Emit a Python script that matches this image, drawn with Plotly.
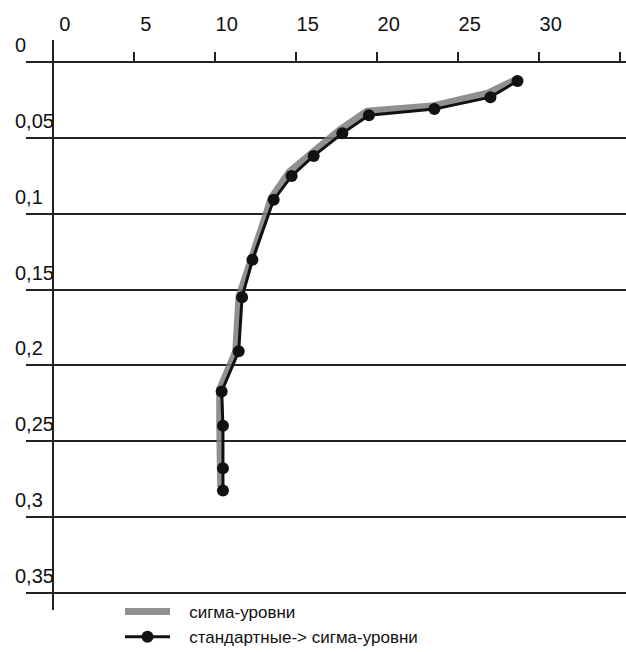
import plotly.graph_objects as go

# Data
sigma_x = [28.52, 26.85, 23.40, 19.40, 17.70, 16.00, 14.60, 13.50, 12.18, 11.50, 11.30, 10.31, 10.31, 10.31, 10.37]
sigma_y = [0.0118, 0.0204, 0.0289, 0.0322, 0.0447, 0.0599, 0.0724, 0.0895, 0.1303, 0.1546, 0.1908, 0.2158, 0.2395, 0.2678, 0.2803]

std_x = [28.69, 27.02, 23.56, 19.52, 17.88, 16.11, 14.75, 13.64, 12.33, 11.69, 11.48, 10.43, 10.51, 10.51, 10.51]
std_y = [0.0123, 0.0230, 0.0309, 0.0349, 0.0469, 0.0618, 0.0750, 0.0908, 0.1303, 0.1551, 0.1908, 0.2173, 0.2399, 0.2680, 0.2827]

x_ticks = [0, 5, 10, 15, 20, 25, 30, 35]
x_ticktext = ["0", "5", "10", "15", "20", "25", "30", ""]
y_ticks = [0, 0.05, 0.1, 0.15, 0.2, 0.25, 0.3, 0.35]
y_ticktext = ["0", "0,05", "0,1", "0,15", "0,2", "0,25", "0,3", "0,35"]

series_names = ["сигма-уровни", "стандартные-> сигма-уровни"]

FONT = "Liberation Sans, Arial, sans-serif"

W, H = 626, 652
ml, mr, mt, mb = 26, 0, 40, 42
PW, PH = W - ml - mr, H - mt - mb
# pixel scales
x0_px, x_scale = 52.7, 16.2
y0_px, y_scale = 62.3, 1515.0
x_range = [(ml - x0_px) / x_scale, (W - mr - x0_px) / x_scale]
y_range = [(H - mb - y0_px) / y_scale, (mt - y0_px) / y_scale]
axis_pos = (H - mb - y0_px) / PH

pad = "\u00a0\u00a0\u00a0"

fig = go.Figure()
fig.add_trace(go.Scatter(
    x=sigma_x, y=sigma_y, mode="lines", name=pad + series_names[0],
    line=dict(color="rgba(125,125,125,0.85)", width=7),
))
fig.add_trace(go.Scatter(
    x=std_x, y=std_y, mode="lines+markers", name=pad + series_names[1],
    line=dict(color="#111111", width=3),
    marker=dict(color="#111111", size=12),
))

annotations = []
for v, t in zip(y_ticks, y_ticktext):
    annotations.append(dict(
        x=(13 - ml) / PW, y=v, xref="paper", yref="y", text=t,
        showarrow=False, xanchor="left", yanchor="middle", yshift=17,
        font=dict(family=FONT, size=20, color="#111111"),
    ))

fig.update_layout(
    width=W, height=H,
    margin=dict(l=ml, r=mr, t=mt, b=mb, autoexpand=False),
    paper_bgcolor="white", plot_bgcolor="white",
    font=dict(family=FONT, size=20, color="#111111"),
    xaxis=dict(
        range=x_range, anchor="free", position=axis_pos, side="top",
        tickvals=x_ticks, ticktext=x_ticktext,
        ticks="outside", ticklen=10, tickwidth=1.5, tickcolor="#222222",
        showline=True, linecolor="#222222", linewidth=1.5,
        showgrid=False,
        zeroline=True, zerolinecolor="#222222", zerolinewidth=1.5,
        ticklabelshift=12, ticklabelstandoff=13,
        tickfont=dict(family=FONT, size=20, color="#111111"),
    ),
    yaxis=dict(
        range=y_range, tickvals=y_ticks[1:], showticklabels=False,
        showgrid=True, gridcolor="#222222", gridwidth=1.5,
        zeroline=False, showline=False, ticks="",
    ),
    showlegend=True,
    legend=dict(
        x=(120 - ml) / PW, y=0.028, xanchor="left", yanchor="top",
        bgcolor="rgba(0,0,0,0)", font=dict(family=FONT, size=17, color="#111111"),
        itemwidth=45, tracegroupgap=0,
    ),
    annotations=annotations,
)

fig.write_html("out.html")
